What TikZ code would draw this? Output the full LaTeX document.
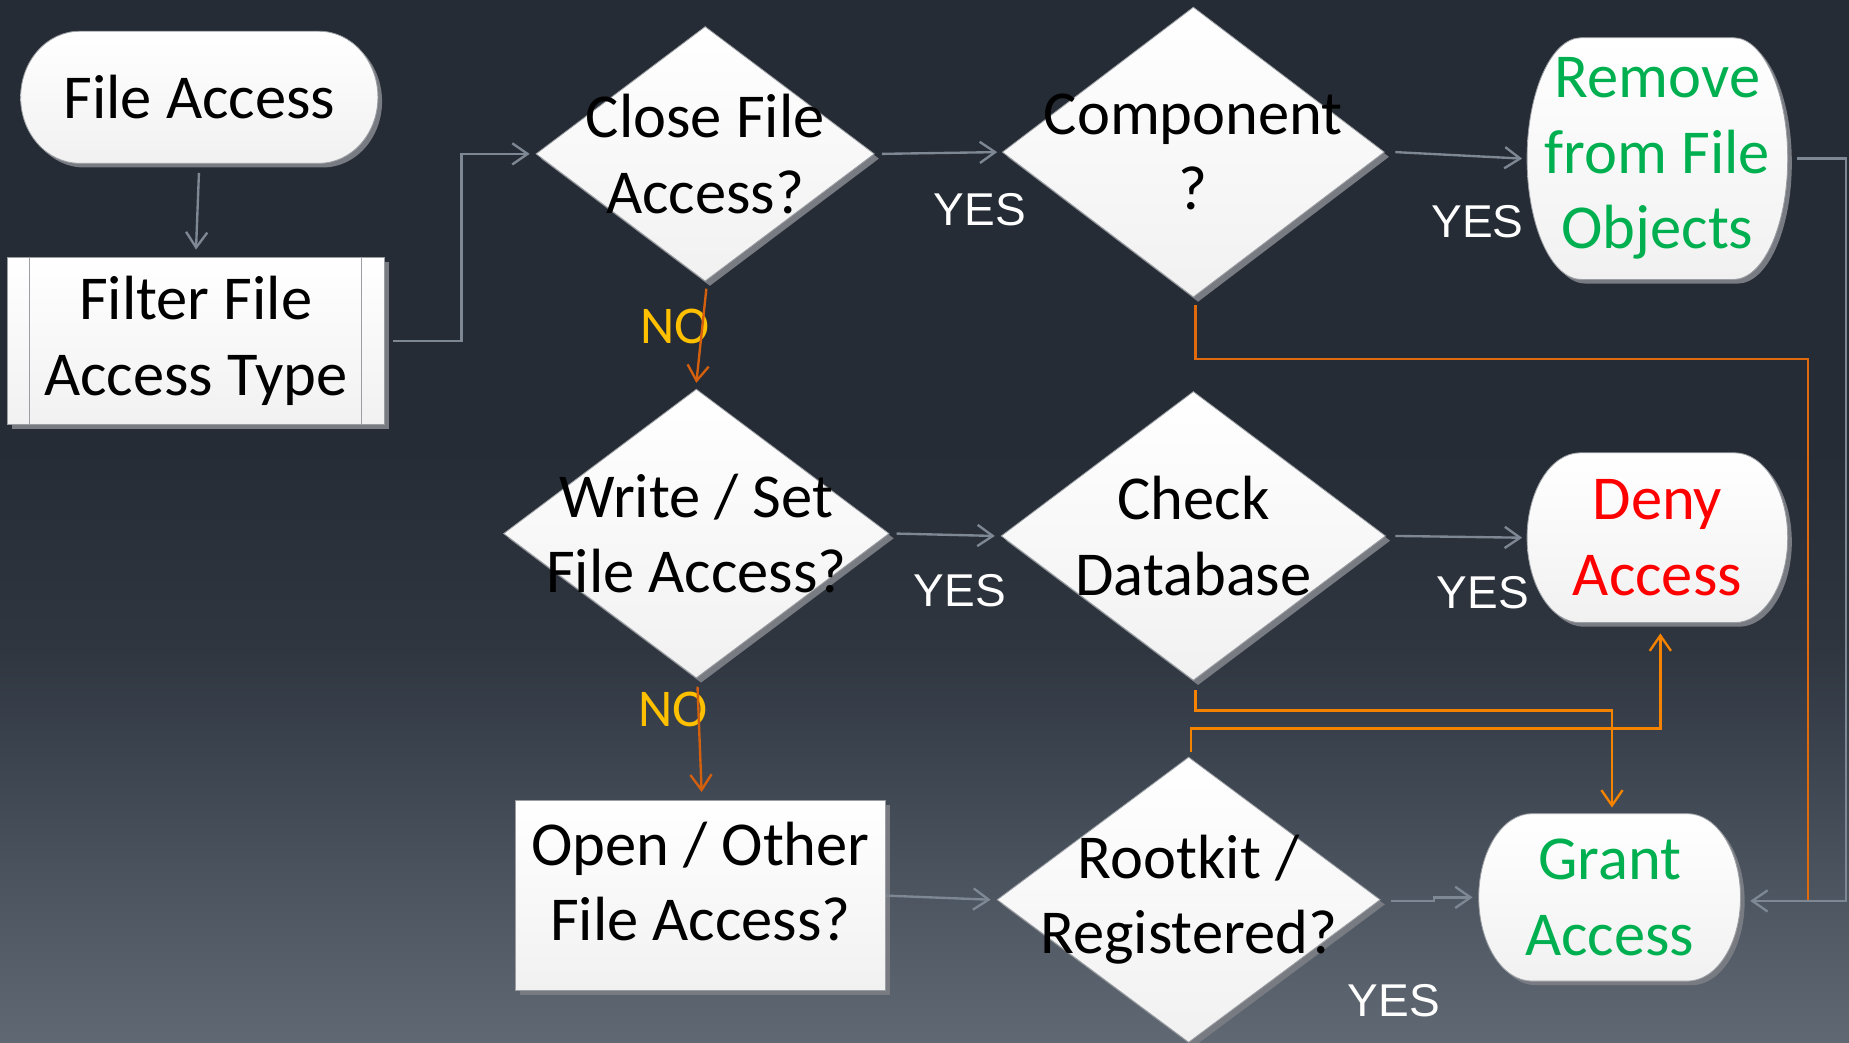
\documentclass[tikz,border=0pt]{standalone}
\usepackage{fontspec}
\setmainfont{Carlito}
\newfontfamily\yesfamily{Liberation Sans}
\usetikzlibrary{arrows.meta,shapes.geometric,shadows}

% background bands, bottom to top
\definecolor{bgA}{HTML}{5F6873}
\definecolor{bgB}{HTML}{4D5661}
\definecolor{bgC}{HTML}{3C4450}
\definecolor{bgD}{HTML}{2F3640}
\definecolor{bgE}{HTML}{262C35}
% shapes
\definecolor{fillbot}{HTML}{F1F1F1}
\definecolor{edgegray}{HTML}{9A9EA3}
\definecolor{shadowgray}{HTML}{787C82}
% connectors and labels
\definecolor{flowgray}{HTML}{7E8894}
\definecolor{noorange}{HTML}{D4600E}
\definecolor{midorange}{HTML}{E06A0C}
\definecolor{brightorange}{HTML}{F58300}
\definecolor{nogold}{HTML}{FFC000}
\definecolor{okgreen}{HTML}{00B050}
\definecolor{denyred}{HTML}{FF0000}

\tikzset{
  shapetext/.style={font=\fontsize{53}{64}\selectfont, align=center, inner sep=0pt, text=black},
  boxfill/.style={top color=white, bottom color=fillbot, draw=edgegray, line width=0.7pt},
  boxshadow/.style={drop shadow={shadow xshift=4pt, shadow yshift=-4pt, fill=shadowgray, opacity=1}},
  decision/.style={diamond, inner sep=0pt, boxfill, boxshadow},
  process/.style={rectangle, inner sep=0pt, boxfill, boxshadow},
  barb/.style={-{Straight Barb[length=13pt, width=18pt, line width=2pt]}},
  flow/.style={draw=flowgray, line width=2pt, barb},
  noflow/.style={draw=noorange, line width=2pt, barb},
  linkflow/.style={draw=brightorange, line width=2.2pt, barb},
  linkline/.style={draw=midorange, line width=2.2pt},
  yeslabel/.style={font=\yesfamily\fontsize{39}{44}\selectfont, text=white, inner sep=0pt},
  nolabel/.style={font=\fontsize{45}{50}\selectfont, text=nogold, inner sep=0pt},
}

% terminal shape with elliptic ends:
% name, centre x, centre y, width, height, end radius, text colour, text
\newcommand\termshape[8]{%
  \pgfmathsetmacro\termhh{#5/2}%
  \fill[shadowgray, shift={({#2+3.5},{#3-3.5})}]
    ({-#4/2+#6},\termhh) -- ({#4/2-#6},\termhh)
    arc[start angle=90, end angle=-90, x radius=#6pt, y radius=\termhh pt]
    -- ({-#4/2+#6},-\termhh)
    arc[start angle=270, end angle=90, x radius=#6pt, y radius=\termhh pt] -- cycle;
  \path[boxfill, shift={(#2,#3)}]
    ({-#4/2+#6},\termhh) -- ({#4/2-#6},\termhh)
    arc[start angle=90, end angle=-90, x radius=#6pt, y radius=\termhh pt]
    -- ({-#4/2+#6},-\termhh)
    arc[start angle=270, end angle=90, x radius=#6pt, y radius=\termhh pt] -- cycle;
  \node[shapetext, text=#7, minimum width=#4pt, minimum height=#5pt] (#1) at (#2,#3) {#8};
}

\begin{document}
\begin{tikzpicture}[x=1pt,y=1pt]
\useasboundingbox (0,0) rectangle (1568,884);

% background gradient
\fill[bgE] (0,503) rectangle (1568,884);
\shade[bottom color=bgD, top color=bgE] (0,333) rectangle (1568,503.5);
\shade[bottom color=bgC, top color=bgD] (0,239) rectangle (1568,333.5);
\shade[bottom color=bgB, top color=bgC] (0,121) rectangle (1568,239.5);
\shade[bottom color=bgA, top color=bgB] (0,0) rectangle (1568,121.5);

% start and end shapes
\termshape{fa}{169}{801.5}{303}{112}{50}{black}{File Access}
\termshape{remove}{1405.5}{749.5}{221}{205}{46}{okgreen}{Remove\\from File\\Objects}
\termshape{deny}{1405.5}{428}{221}{144}{45}{denyred}{Deny\\Access}
\termshape{grant}{1365}{123}{222}{142}{45}{okgreen}{Grant\\Access}

% predefined process
\node[process, shapetext, minimum width=320pt, minimum height=142pt] (filter) at (166,595)
  {Filter File\\Access Type};
\draw[edgegray, line width=0.7pt]
  ([xshift=19pt]filter.north west) -- ([xshift=19pt]filter.south west)
  ([xshift=-20pt]filter.north east) -- ([xshift=-20pt]filter.south east);

% decisions
\node[decision, minimum width=287pt, minimum height=216pt,
  label={[shapetext]center:Close File\\Access?}] (close) at (598,753.5) {};
\node[decision, minimum width=324pt, minimum height=246pt,
  label={[shapetext]center:Component\\?}] (comp) at (1012,755) {};
\node[decision, minimum width=327pt, minimum height=245pt,
  label={[shapetext]center:Write / Set\\File Access?}] (write) at (590.5,431.5) {};
\node[decision, minimum width=326pt, minimum height=245pt,
  label={[shapetext]center:Check\\Database}] (check) at (1012,429.5) {};
\node[decision, minimum width=325pt, minimum height=242pt,
  label={[shapetext]center:Rootkit /\\Registered?}] (rk) at (1008,121) {};

% process box
\node[process, minimum width=314pt, minimum height=161pt,
  label={[shapetext, yshift=12pt]center:Open / Other\\File Access?}] (open) at (594,124.5) {};

% branch labels
\node[yeslabel] (yesA) at (831,706.5) {YES};
\node[yeslabel] (yesB) at (1253,696) {YES};
\node[yeslabel] (yesC) at (814,383) {YES};
\node[yeslabel] (yesD) at (1257.5,381) {YES};
\node[yeslabel] (yesE) at (1182,35.5) {YES};
\node[nolabel] (noA) at (572.5,607) {NO};
\node[nolabel] (noB) at (570.5,282.5) {NO};

% connectors
\coordinate (join) at ([xshift=57pt,yshift=-3pt]grant.east);
\draw[linkline] ([xshift=2pt,yshift=-6pt]comp.south) -- ++(0,-46) -| (join);
\draw[flow, shorten <=8pt, shorten >=6pt] (fa.south) -- (filter.north);
\draw[flow] ([xshift=7pt]filter.east) -- ++(58,0) |- ([xshift=-5pt]close.west);
\draw[flow] ([xshift=6pt]close.east) -- ([xshift=-4pt]comp.west);
\draw[flow] ([xshift=9pt]comp.east) -- ([xshift=-4pt]remove.west);
\draw[flow] ([xshift=8pt]remove.east) -- ++(41,0) |- ([xshift=8pt,yshift=-3pt]grant.east);
\draw[flow] ([xshift=6pt]write.east) -- ([xshift=-5pt]check.west);
\draw[flow] ([xshift=8pt]check.east) -- ([xshift=-4pt]deny.west);
\draw[flow] (open.east) -- ([xshift=-5pt]rk.west);
\draw[flow] ([xshift=9pt,yshift=-1pt]rk.east) -- ++(36,0) |- ([xshift=-5pt]grant.west);
\draw[noflow] ([xshift=1pt,yshift=-6pt]close.south) -- ([yshift=5pt]write.north);
\draw[noflow] ([xshift=1pt,yshift=-7pt]write.south) -- ([xshift=1pt,yshift=7pt]open.north);
\draw[linkflow] ([xshift=2pt,yshift=-8pt]check.south) -- ++(0,-17) -| ([xshift=2pt,yshift=5pt]grant.north);
\draw[linkflow] ([xshift=2pt,yshift=4pt]rk.north) -- ++(0,20) -| ([xshift=2.5pt,yshift=-9pt]deny.south);
\end{tikzpicture}
\end{document}
